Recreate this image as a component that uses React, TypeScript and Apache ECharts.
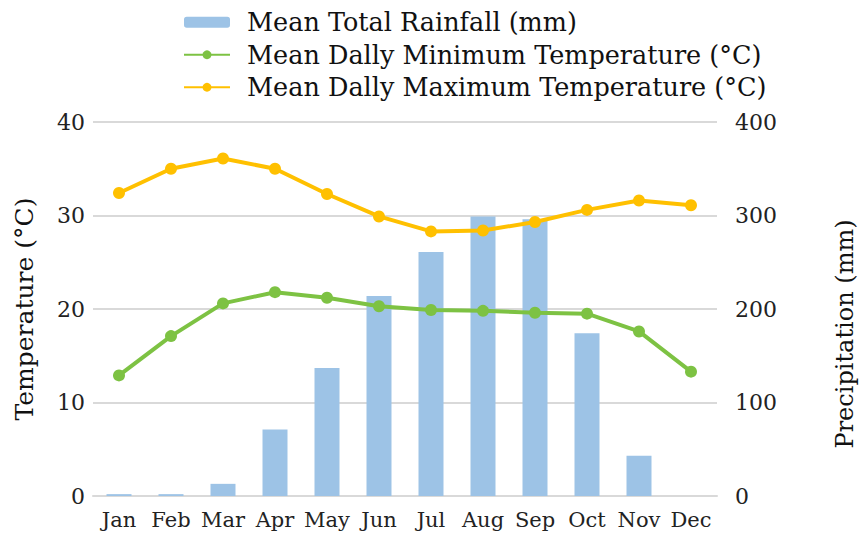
import React, { useEffect, useRef } from "react";
import * as echarts from "echarts";

const months = ["Jan", "Feb", "Mar", "Apr", "May", "Jun", "Jul", "Aug", "Sep", "Oct", "Nov", "Dec"];
const rainfall = [2, 2, 13, 71, 137, 214, 261, 299, 296, 174, 43, 0];
const minTemp = [12.9, 17.1, 20.6, 21.8, 21.2, 20.3, 19.9, 19.8, 19.6, 19.5, 17.6, 13.3];
const maxTemp = [32.4, 35.0, 36.1, 35.0, 32.3, 29.9, 28.3, 28.4, 29.3, 30.6, 31.6, 31.1];

const nameRain = "Mean Total Rainfall (mm)";
const nameMin = "Mean Dally Minimum Temperature (°C)";
const nameMax = "Mean Dally Maximum Temperature (°C)";

const FONT = "DejaVu Serif";

export default function App() {
  const ref = useRef<HTMLDivElement>(null);
  useEffect(() => {
    if (!ref.current) return;
    const chart = echarts.init(ref.current, undefined, { renderer: "svg" });
    chart.setOption({
      animation: false,
      backgroundColor: "#ffffff",
      textStyle: { fontFamily: FONT },
      legend: {
        orient: "vertical",
        left: 178,
        top: 1,
        itemWidth: 46,
        itemHeight: 11,
        itemGap: 0,
        textStyle: { fontFamily: FONT, fontSize: 25.5, color: "#111", lineHeight: 32.5, padding: [0, 0, 0, 12] },
        data: [nameRain, nameMin, nameMax],
      },
      grid: { left: 93, right: 147, top: 122, bottom: 40 },
      xAxis: {
        type: "category",
        data: months,
        axisLine: { lineStyle: { color: "#d9d9d9", width: 2 } },
        axisTick: { show: false },
        axisLabel: { fontFamily: FONT, fontSize: 21, color: "#222", margin: 13, interval: 0 },
      },
      yAxis: [
        {
          type: "value",
          min: 0,
          max: 40,
          interval: 10,
          name: "Temperature (°C)",
          nameLocation: "middle",
          nameRotate: 90,
          nameGap: 56,
          nameTextStyle: { fontFamily: FONT, fontSize: 25, color: "#111" },
          axisLine: { show: false },
          axisTick: { show: false },
          axisLabel: { fontFamily: FONT, fontSize: 22, color: "#222", margin: 8 },
          splitLine: { lineStyle: { color: "#d9d9d9", width: 2 } },
        },
        {
          type: "value",
          min: 0,
          max: 400,
          interval: 100,
          name: "Precipitation (mm)",
          nameLocation: "middle",
          nameRotate: 90,
          nameGap: 116,
          nameTextStyle: { fontFamily: FONT, fontSize: 24, color: "#111", padding: [0, 50, 0, 0] },
          axisLine: { show: false },
          axisTick: { show: false },
          axisLabel: { fontFamily: FONT, fontSize: 22, color: "#222", margin: 18 },
          splitLine: { show: false },
        },
      ],
      series: [
        {
          name: nameRain,
          type: "bar",
          yAxisIndex: 1,
          data: rainfall,
          barWidth: 25,
          itemStyle: { color: "#9dc3e6" },
        },
        {
          name: nameMin,
          type: "line",
          yAxisIndex: 0,
          data: minTemp,
          symbol: "circle",
          symbolSize: 12,
          lineStyle: { color: "#7dc243", width: 4 },
          itemStyle: { color: "#7dc243" },
        },
        {
          name: nameMax,
          type: "line",
          yAxisIndex: 0,
          data: maxTemp,
          symbol: "circle",
          symbolSize: 12,
          lineStyle: { color: "#ffc000", width: 4 },
          itemStyle: { color: "#ffc000" },
        },
      ],
    });
    return () => chart.dispose();
  }, []);
  return (
    <div
      ref={ref}
      style={{ position: "absolute", left: 0, top: 0, width: 865, height: 536 }}
    />
  );
}
